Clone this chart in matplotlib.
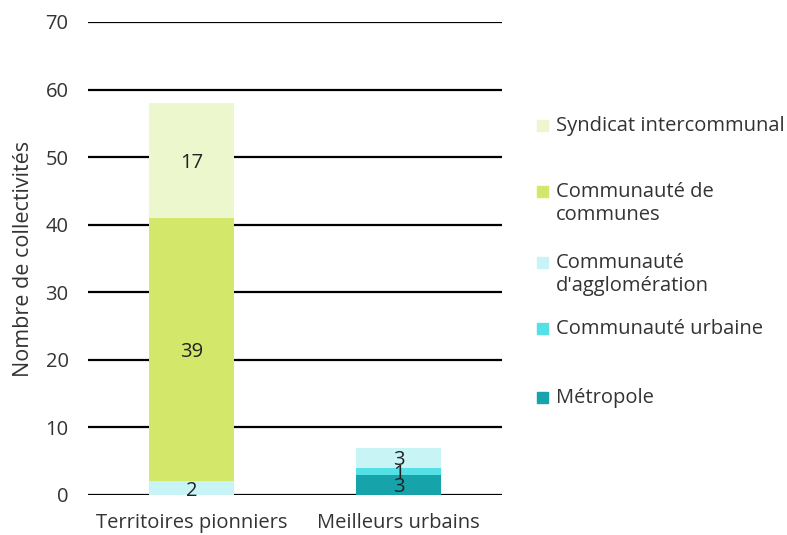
import numpy as np
import matplotlib
matplotlib.use('Agg')
import matplotlib.pyplot as plt
from matplotlib.patches import Rectangle

plt.rcParams['font.family'] = ['Open Sans', 'DejaVu Sans']
plt.rcParams['font.size'] = 14.5

groups = ['Territoires pionniers', 'Meilleurs urbains']
# stacked from bottom to top
series = ['Métropole', 'Communauté urbaine', "Communauté d'agglomération",
          'Communauté de communes', 'Syndicat intercommunal']
values = {
    'Métropole': [0, 3],
    'Communauté urbaine': [0, 1],
    "Communauté d'agglomération": [2, 3],
    'Communauté de communes': [39, 0],
    'Syndicat intercommunal': [17, 0],
}
colors = {
    'Métropole': '#17a3aa',
    'Communauté urbaine': '#55e0e6',
    "Communauté d'agglomération": '#c8f4f6',
    'Communauté de communes': '#d3e86a',
    'Syndicat intercommunal': '#edf7cd',
}
legend_labels = {
    'Syndicat intercommunal': 'Syndicat intercommunal',
    'Communauté de communes': 'Communauté de\ncommunes',
    "Communauté d'agglomération": "Communauté\nd'agglomération",
    'Communauté urbaine': 'Communauté urbaine',
    'Métropole': 'Métropole',
}

fig = plt.figure(figsize=(7.87, 5.35), dpi=100)
ax = fig.add_axes([0.1118, 0.0748, 0.5261, 0.8841])

x = np.arange(len(groups))
bottom = np.zeros(len(groups))
for s in series:
    v = np.array(values[s], dtype=float)
    ax.bar(x, v, 0.41, bottom=bottom, color=colors[s], zorder=3)
    for i in range(len(groups)):
        if v[i] > 0:
            ax.text(x[i], bottom[i] + v[i] / 2, str(int(v[i])), ha='center',
                    va='center_baseline', color='#222222', fontsize=14.5, zorder=4)
    bottom += v

ax.set_xlim(-0.5, 1.5)
ax.set_ylim(0, 70)
ax.set_yticks(np.arange(0, 71, 10))
ax.yaxis.grid(True, color='black', linewidth=1.6, zorder=1)
ax.set_axisbelow(True)
for sp in ax.spines.values():
    sp.set_visible(False)
ax.tick_params(axis='both', length=0, colors='#333333', labelsize=14.5)
ax.tick_params(axis='y', pad=14)
ax.tick_params(axis='x', pad=13)
ax.set_xticks(x)
ax.set_xticklabels(groups)
ax.set_ylabel('Nombre de collectivités', color='#333333', fontsize=15.5, labelpad=8)

# legend drawn by hand on the right
leg_order = ['Syndicat intercommunal', 'Communauté de communes',
             "Communauté d'agglomération", 'Communauté urbaine', 'Métropole']
leg_y = [125, 191, 262, 328, 397]
W, H = 787, 535
for s, yp in zip(leg_order, leg_y):
    fig.add_artist(Rectangle((537 / W, 1 - (yp + 6) / H), 11 / W, 11 / H,
                             transform=fig.transFigure, color=colors[s]))
    fig.text(556 / W, 1 - (yp - 9) / H, legend_labels[s], ha='left', va='top',
             color='#333333', fontsize=14.5, linespacing=1.22)

fig.savefig('out.png', dpi=100)
